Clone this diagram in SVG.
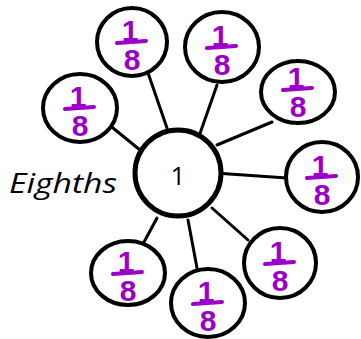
<svg xmlns="http://www.w3.org/2000/svg" width="361" height="339" viewBox="0 0 361 339">
<style>
.node ellipse{fill:#fff;stroke:#000;stroke-width:4}
.frac{font-family:"Liberation Sans",Arial,sans-serif;font-weight:bold;font-size:30px;fill:#9B00C8;text-anchor:middle}
.bar{stroke:#9B00C8;stroke-width:4;stroke-linecap:round}
.conn line{stroke:#000;stroke-width:3;stroke-linecap:round}
</style>
<rect width="361" height="339" fill="#fff"/>
<g class="conn">
<line x1="147" y1="70" x2="167" y2="128"/>
<line x1="217" y1="85" x2="197" y2="142"/>
<line x1="113" y1="128" x2="140" y2="150"/>
<line x1="272" y1="122" x2="217" y2="145"/>
<line x1="215" y1="173" x2="287" y2="178"/>
<line x1="212" y1="208" x2="248" y2="240"/>
<line x1="188" y1="220" x2="197" y2="268"/>
<line x1="157" y1="218" x2="137" y2="255"/>
</g>
<g id="center" class="node">
<circle cx="178" cy="173" r="43" fill="#fff" stroke="#000" stroke-width="5"/>
<text x="178" y="185" font-family="Open Sans,Liberation Sans,sans-serif" font-size="26" text-anchor="middle">1</text>
</g>
<text id="label" x="9" y="193" font-family="Open Sans,Liberation Sans,sans-serif" font-style="italic" font-size="28" textLength="108" lengthAdjust="spacingAndGlyphs">Eighths</text>
<defs>
<g id="fr">
<text class="frac" x="-2" y="-1">1</text>
<line class="bar" x1="-15" y1="1" x2="14" y2="-1"/>
<text class="frac" x="0" y="28">8</text>
</g>
</defs>
<g id="n1" class="node" transform="translate(132,42)"><ellipse rx="35" ry="34"/><use href="#fr"/></g>
<g id="n2" class="node" transform="translate(222,47)"><ellipse rx="37" ry="35"/><use href="#fr"/></g>
<g id="n3" class="node" transform="translate(80,108)"><ellipse rx="37" ry="34"/><use href="#fr"/></g>
<g id="n4" class="node" transform="translate(298,92)"><ellipse rx="37" ry="31"/><use href="#fr" transform="translate(0,-3)"/></g>
<g id="n5" class="node" transform="translate(322,177)"><ellipse rx="36" ry="35"/><use href="#fr"/></g>
<g id="n6" class="node" transform="translate(280,263)"><ellipse rx="36" ry="35"/><use href="#fr"/></g>
<g id="n7" class="node" transform="translate(208,303)"><ellipse rx="37" ry="34"/><use href="#fr"/></g>
<g id="n8" class="node" transform="translate(128,273)"><ellipse rx="37" ry="32"/><use href="#fr"/></g>
</svg>
